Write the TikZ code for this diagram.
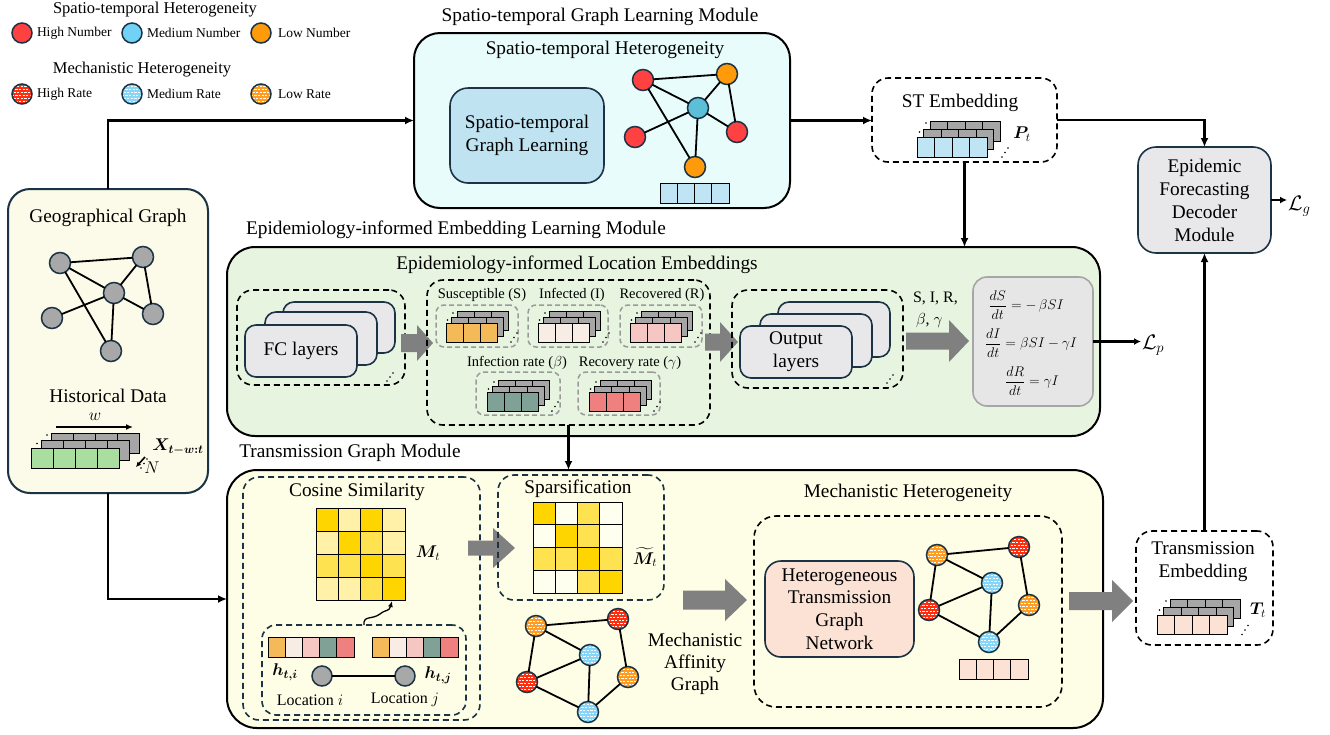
\RequirePackage{fix-cm}
\documentclass[tikz,border=0pt]{standalone}
\usepackage{amsmath,bm}
\usepackage{fontspec}
\setmainfont{Liberation Serif}
\usetikzlibrary{arrows.meta,calc}

\definecolor{navy}{HTML}{1B3344}
\definecolor{cred}{HTML}{FF4141}
\definecolor{cblueL}{HTML}{72D2F6}
\definecolor{cblue}{HTML}{5CBFD8}
\definecolor{corange}{HTML}{FF9A0A}
\definecolor{mred}{HTML}{FF2E0F}
\definecolor{mblue}{HTML}{86D6F8}
\definecolor{morange}{HTML}{FF9C22}
\definecolor{ggray}{HTML}{A8A8A8}
\definecolor{lgray}{HTML}{A6A6A6}
\definecolor{dgray}{HTML}{9A9A9A}
\definecolor{barc}{HTML}{808080}
\definecolor{cyanbg}{HTML}{E8FCFC}
\definecolor{stinner}{HTML}{BFE3F1}
\definecolor{creambg}{HTML}{FCFBEA}
\definecolor{greenbg}{HTML}{E7F5E0}
\definecolor{yellowbg}{HTML}{FEFDE5}
\definecolor{boxgray}{HTML}{E8E8EB}
\definecolor{peach}{HTML}{FBE2D5}
\definecolor{fmgray}{HTML}{E6E6E6}
\definecolor{fmborder}{HTML}{A6A6A6}
\definecolor{embblue}{HTML}{BFE4F4}
\definecolor{embgreen}{HTML}{A9DEA0}
\definecolor{cS}{HTML}{F4BA5A}
\definecolor{cI}{HTML}{F8EDE5}
\definecolor{cR}{HTML}{F5C6C2}
\definecolor{cB}{HTML}{7FA196}
\definecolor{cG}{HTML}{EF8080}
\definecolor{mG}{HTML}{FFD500}
\definecolor{mM}{HTML}{FFE250}
\definecolor{mP}{HTML}{FFF2A8}
\definecolor{mW}{HTML}{FFFFF0}

\newcommand{\bx}[7][]{\node[#1, minimum width={(#5)-(#3)}, minimum height={(#6)-(#4)}] (#2) at ({((#3)+(#5))/2},{((#4)+(#6))/2}) {#7};}
\newcommand{\cellrow}[6]{\foreach \ii in {1,...,#3}{\draw[cell, fill=#6] ({(#1)+(\ii-1)*(#4)},{#2}) rectangle ++(#4,#5);}}
\newcommand{\stk}[8]{%
  \cellrow{(#1)+2*(#7)}{(#2)+2*(#8)}{#3}{#4}{#5}{lgray}%
  \cellrow{(#1)+(#7)}{(#2)+(#8)}{#3}{#4}{#5}{lgray}%
  \cellrow{#1}{#2}{#3}{#4}{#5}{#6}%
  \fill ({(#1)+(#7)-4},{(#2)+(#8)+3}) circle (0.9);
  \fill ({(#1)+2*(#7)-4},{(#2)+2*(#8)+2}) circle (0.9);
  \fill ({(#1)+(#3)*(#4)+2*(#7)+2},{(#2)+(#5)}) circle (0.9);
  \fill ({(#1)+(#3)*(#4)+2*(#7)+5},{(#2)+(#5)-4.5}) circle (0.9);
  \fill ({(#1)+(#3)*(#4)+2*(#7)+8},{(#2)+(#5)-9}) circle (0.9);
}
\newcommand{\mat}[5]{\foreach \cc [count=\kk from 0] in {#5}{\pgfmathtruncatemacro\rr{\kk/4}\pgfmathtruncatemacro\qq{mod(\kk,4)}\draw[cell, fill=\cc] ({(#1)+\qq*(#3)},{(#2)+\rr*(#4)}) rectangle ++(#3,#4);}}
\newcommand{\barrow}[6]{\fill[barc] (#1,{(#3)-(#4)}) -- ({(#2)-(#6)},{(#3)-(#4)}) -- ({(#2)-(#6)},{(#3)-(#5)}) -- (#2,#3) -- ({(#2)-(#6)},{(#3)+(#5)}) -- ({(#2)-(#6)},{(#3)+(#4)}) -- (#1,{(#3)+(#4)}) -- cycle;}
\newcommand{\tdots}[2]{\fill (#1,#2) circle (0.9); \fill ({#1+3},{#2-4}) circle (0.9); \fill ({#1+6},{#2-8}) circle (0.9);}

\tikzset{
  F19/.style={font=\fontsize{19.3}{23}\selectfont},
  F17/.style={font=\fontsize{17}{20}\selectfont},
  F165/.style={font=\fontsize{16.5}{19}\selectfont},
  F16/.style={font=\fontsize{16}{19}\selectfont},
  F145/.style={font=\fontsize{14.5}{17}\selectfont},
  F135/.style={font=\fontsize{13.5}{16}\selectfont},
  txt/.style={inner sep=0, outer sep=0, align=center},
  modbox/.style={draw=black, line width=2, rounded corners=26, inner sep=0, outer sep=0},
  solbox/.style={draw=navy, line width=1.6, rounded corners=15, inner sep=0, outer sep=0},
  dbox/.style={draw=black, line width=1.6, dash pattern=on 6pt off 4pt, rounded corners=16, inner sep=0, outer sep=0},
  gdbox/.style={draw=dgray, line width=1.5, dash pattern=on 5pt off 3pt, rounded corners=8, inner sep=0, outer sep=0},
  arr/.style={line width=2.2, -{Latex[length=9pt,width=8pt]}},
  arrs/.style={line width=2.2, -{Latex[length=7pt,width=7pt]}},
  gn/.style={circle, draw=navy, line width=1.5, minimum size=21, inner sep=0, outer sep=0},
  ge/.style={line width=1.8},
  cell/.style={draw=black, line width=1},
  mdot/.style={gn, fill=#1, path picture={\foreach \yy/\xo in {-8/0,-5/1.8,-2/0,1/1.8,4/0,7/1.8}{\draw[white, line width=0.9, dash pattern=on 2.2pt off 1.4pt] ($(path picture bounding box.center)+(-12+\xo,\yy)$) -- ++(26,0);}}}
}

\begin{document}
\begin{tikzpicture}[x=1pt,y=-1pt]
\useasboundingbox (0,0) rectangle (1330,734);

%% ---------------- legend
\node[txt,F165] (lg1) at (155,10) {Spatio-temporal Heterogeneity};
\node[gn,fill=cred,minimum size=20] (lc1) at (22,33) {};
\node[txt,F135,anchor=west] (ll1) at (37,33) {High Number};
\node[gn,fill=cblueL,minimum size=20] (lc2) at (132,33) {};
\node[txt,F135,anchor=west] (ll2) at (147,33) {Medium Number};
\node[gn,fill=corange,minimum size=20] (lc3) at (261,33) {};
\node[txt,F135,anchor=west] (ll3) at (278,33) {Low Number};
\node[txt,F165] (lg2) at (142,70) {Mechanistic Heterogeneity};
\node[mdot=mred,minimum size=20] (lm1) at (22,94) {};
\node[txt,F135,anchor=west] (lk1) at (37,94) {High Rate};
\node[mdot=mblue,minimum size=20] (lm2) at (132,94) {};
\node[txt,F135,anchor=west] (lk2) at (147,94) {Medium Rate};
\node[mdot=morange,minimum size=20] (lm3) at (261,94) {};
\node[txt,F135,anchor=west] (lk3) at (278,94) {Low Rate};

%% ---------------- module boxes
\bx[modbox,draw=navy,fill=creambg,rounded corners=22]{geo}{8}{189}{208}{493}{}
\bx[modbox,fill=cyanbg]{stm}{414}{33}{790}{208}{}
\bx[modbox,fill=greenbg,rounded corners=28]{eim}{227}{247}{1100}{436}{}
\bx[modbox,fill=yellowbg,rounded corners=30]{tgm}{227}{470}{1103}{728}{}

%% ---------------- left panel
\node[txt,F19] (geot) at (108,218) {Geographical Graph};
\node[gn,fill=ggray] (gA) at (60,263) {};
\node[gn,fill=ggray] (gB) at (143,257) {};
\node[gn,fill=ggray] (gC) at (114,293) {};
\node[gn,fill=ggray] (gD) at (52,318) {};
\node[gn,fill=ggray] (gE) at (153,314) {};
\node[gn,fill=ggray] (gF) at (111,351) {};
\draw[ge] (gA) -- (gB) (gA) -- (gC) (gA) -- (gF) (gB) -- (gC) (gB) -- (gE) (gC) -- (gE) (gC) -- (gD) (gC) -- (gF);
\node[txt,F19] (histt) at (108,396) {Historical Data};
\coordinate (w1) at (56,427); \coordinate (w2) at (133,427);
\draw[line width=1.6,-{Latex[length=7pt,width=6pt]}] (w1) -- (w2);
\node[txt,F17] (wlab) at (95,417) {$w$};
\stk{31}{448}{4}{22}{20}{embgreen}{10}{-7.5}
\node[txt,F17] (xlab) at (178,447) {$\bm{X}_{\bm{t-w:t}}$};
\coordinate (n1) at (145,457); \coordinate (n2) at (136,467);
\draw[line width=1.6,-{Latex[length=5pt,width=5pt]}] (n1) -- (n2);
\node[txt,F17] (nlab) at (152,468) {$N$};

%% ---------------- top module
\node[txt,F19] (stmt) at (600,17) {Spatio-temporal Graph Learning Module};
\node[txt,F19] (stht) at (605,50) {Spatio-temporal Heterogeneity};
\bx[solbox,fill=stinner,rounded corners=18,F19,align=center]{stgl}{450}{88}{604}{183}{Spatio-temporal\\Graph Learning}
\node[gn,fill=cred] (sR1) at (643,80) {};
\node[gn,fill=corange] (sO1) at (727,74) {};
\node[gn,fill=cblue] (sB) at (698,108) {};
\node[gn,fill=cred] (sR2) at (635,137) {};
\node[gn,fill=cred] (sR3) at (737,132) {};
\node[gn,fill=corange] (sO2) at (695,167) {};
\draw[ge] (sR1) -- (sO1) (sR1) -- (sB) (sR1) -- (sO2) (sO1) -- (sB) (sO1) -- (sR3) (sB) -- (sR3) (sB) -- (sR2) (sB) -- (sO2);
\cellrow{660}{183}{4}{17.25}{20}{embblue}

%% ---------------- ST embedding
\bx[dbox]{stemb}{872}{78}{1057}{162}{}
\node[txt,F19] (stet) at (960,103) {ST Embedding};
\stk{917}{137}{4}{17.5}{20}{embblue}{6.5}{-8}
\node[txt,F17] (plab) at (1022,134) {$\bm{P}_t$};

%% ---------------- decoder
\bx[solbox,fill=boxgray,rounded corners=18,F19,align=center]{dec}{1138}{147}{1271}{253}{Epidemic\\Forecasting\\Decoder\\Module}
\node[txt,font=\fontsize{21}{24}\selectfont,anchor=west,inner sep=1] (lg) at (1287,206) {$\mathcal{L}_g$};

%% ---------------- middle module
\node[txt,F19] (eimt) at (456,230) {Epidemiology-informed Embedding Learning Module};
\node[txt,F19] (eilt) at (577,265) {Epidemiology-informed Location Embeddings};
\bx[dbox]{fcb}{237}{290}{405}{385}{}
\bx[solbox,fill=boxgray,rounded corners=11]{fc3}{283}{302}{395}{353}{}
\bx[solbox,fill=boxgray,rounded corners=11]{fc2}{265}{312}{377}{365}{}
\bx[solbox,fill=boxgray,rounded corners=11,F19]{fc1}{245}{325}{357}{377}{FC layers}
\tdots{387}{381}
\barrow{401}{433}{343}{9}{18}{16}

\bx[dbox]{sir}{427}{280}{710}{425}{}
\node[txt,F145] (sl) at (482,295) {Susceptible (S)};
\bx[gdbox]{sbx}{436}{305}{518}{347}{}
\stk{446}{323}{3}{17.3}{19}{cS}{5.5}{-6}
\node[txt,F145] (il) at (572,295) {Infected (I)};
\bx[gdbox]{ibx}{528}{305}{608}{347}{}
\stk{538}{323}{3}{17.3}{19}{cI}{5.5}{-6}
\node[txt,F145] (rl) at (662,295) {Recovered (R)};
\bx[gdbox]{rbx}{620}{305}{702}{347}{}
\stk{630}{323}{3}{17.3}{19}{cR}{5.5}{-6}
\node[txt,F145] (bl) at (517,363) {Infection rate ($\beta$)};
\bx[gdbox]{bbx}{476}{372}{560}{415}{}
\stk{487}{392}{3}{17.3}{19}{cB}{5.5}{-6}
\node[txt,F145] (gl) at (630,363) {Recovery rate ($\gamma$)};
\bx[gdbox]{gbx}{578}{372}{660}{415}{}
\stk{589}{392}{3}{17.3}{19}{cG}{5.5}{-6}
\barrow{705}{738}{342}{8.5}{20}{18}

\bx[dbox]{outb}{732}{290}{903}{388}{}
\bx[solbox,fill=boxgray,rounded corners=11]{ol3}{778}{302}{890}{357}{}
\bx[solbox,fill=boxgray,rounded corners=11]{ol2}{760}{314}{872}{367}{}
\bx[solbox,fill=boxgray,rounded corners=11,F19,align=center]{ol1}{740}{326}{852}{378}{Output\\layers}
\tdots{887}{383}
\node[txt,F16,anchor=west] (sirl) at (913,298) {S, I, R,};
\node[txt,F16,anchor=west] (bgl) at (916,320) {$\beta$, $\gamma$};
\barrow{906}{969}{341}{8.5}{21}{20}

\bx[draw=fmborder,line width=1.6,fill=fmgray,rounded corners=14,inner sep=0,outer sep=0]{fmla}{973}{277}{1093}{406}{}
\node[txt,font=\fontsize{14}{16}\selectfont] (eq1) at (1026,305) {$\dfrac{dS}{dt} = -\,\beta SI$};
\node[txt,font=\fontsize{14}{16}\selectfont] (eq2) at (1031,343) {$\dfrac{dI}{dt} = \beta SI - \gamma I$};
\node[txt,font=\fontsize{14}{16}\selectfont] (eq3) at (1032,381) {$\dfrac{dR}{dt} = \gamma I$};
\node[txt,font=\fontsize{21}{24}\selectfont,anchor=west,inner sep=1] (lp) at (1141,345) {$\mathcal{L}_p$};

%% ---------------- bottom module
\node[txt,F19] (tgmt) at (350,453) {Transmission Graph Module};
\bx[dbox,draw=navy]{cosb}{243}{477}{480}{720}{}
\node[txt,F19] (cost) at (357,492) {Cosine Similarity};
\mat{316}{508}{22.25}{23}{mG,mP,mG,mP,mP,mG,mM,mP,mM,mM,mG,mM,mP,mP,mM,mG}
\node[txt,F17] (mlab) at (428,553) {$\bm{M}_t$};
\bx[dbox,draw=navy,rounded corners=14]{inb}{262}{625}{466}{715}{}
\coordinate (cs2) at (392,601);
\draw[line width=1.3,-{Latex[length=6pt,width=5pt]}] (inb.north) .. controls (363,615) and (372,620) .. (380,614) .. controls (386,609) and (389,612) .. (cs2);
\foreach \cc [count=\kk from 0] in {cS,cI,cR,cB,cG}{\draw[cell,fill=\cc] ({268+\kk*17.2},637) rectangle ++(17.2,20);}
\foreach \cc [count=\kk from 0] in {cS,cI,cR,cB,cG}{\draw[cell,fill=\cc] ({372+\kk*17.2},637) rectangle ++(17.2,20);}
\node[gn,fill=ggray,minimum size=20] (li) at (322,676) {};
\node[gn,fill=ggray,minimum size=20] (lj) at (405,676) {};
\draw[ge] (li) -- (lj);
\node[txt,F17] (hi) at (285,672) {$\bm{h}_{\bm{t,i}}$};
\node[txt,F17] (hj) at (438,675) {$\bm{h}_{\bm{t,j}}$};
\node[txt,F16] (loci) at (310,700) {Location $i$};
\node[txt,F16] (locj) at (405,700) {Location $j$};
\barrow{468}{515}{548}{7.5}{20}{22}

\bx[dbox,draw=navy]{spb}{498}{475}{664}{600}{}
\node[txt,F19] (spt) at (578,489) {Sparsification};
\mat{533}{502}{22.25}{22.75}{mG,mW,mM,mW,mW,mG,mM,mW,mM,mM,mG,mM,mW,mW,mM,mG}
\node[txt,F17] (mtl) at (645,557) {$\widetilde{\bm{M}}_t$};
\node[mdot=morange] (aO1) at (536,626) {};
\node[mdot=mred] (aR1) at (618,619) {};
\node[mdot=mblue] (aB1) at (590,655) {};
\node[mdot=mred] (aR2) at (527,682) {};
\node[mdot=morange] (aO2) at (628,677) {};
\node[mdot=mblue] (aB2) at (588,712) {};
\draw[ge] (aO1) -- (aR1) (aO1) -- (aB1) (aO1) -- (aR2) (aR1) -- (aO2) (aB1) -- (aR2) (aB1) -- (aB2) (aR2) -- (aB2) (aO2) -- (aB2);
\node[txt,font=\fontsize{19.3}{22}\selectfont] (magt) at (695,664) {Mechanistic\\Affinity\\Graph};
\barrow{683}{747}{600}{9.5}{21}{22}

\node[txt,F19] (mht) at (908,493) {Mechanistic Heterogeneity};
\bx[dbox,rounded corners=22]{mhb}{754}{516}{1062}{707}{}
\bx[solbox,fill=peach,rounded corners=16,align=center,font=\fontsize{19.3}{22.7}\selectfont]{htgn}{765}{561}{914}{657}{Heterogeneous\\Transmission\\Graph\\Network}
\node[mdot=morange] (hO1) at (937,555) {};
\node[mdot=mred] (hR1) at (1019,547) {};
\node[mdot=mblue] (hB1) at (992,583) {};
\node[mdot=mred] (hR2) at (929,610) {};
\node[mdot=morange] (hO2) at (1029,605) {};
\node[mdot=mblue] (hB2) at (989,642) {};
\draw[ge] (hO1) -- (hR1) (hO1) -- (hB1) (hO1) -- (hR2) (hR1) -- (hO2) (hB1) -- (hR2) (hB1) -- (hB2) (hR2) -- (hB2) (hO2) -- (hB2);
\cellrow{959}{659}{4}{17.25}{20}{peach}
\barrow{1069}{1133}{601}{9}{21}{21}

%% ---------------- transmission embedding
\bx[dbox]{temb}{1136}{531}{1273}{645}{}
\node[txt,F19] (tet) at (1203,562) {Transmission\\Embedding};
\stk{1157}{615}{4}{17.5}{19.5}{peach}{6.5}{-8}
\node[txt,F17] (tlab) at (1258,610) {$\bm{T}_t$};

%% ---------------- connectors
\draw[arr] (geo.north) |- (stm.west);
\draw[arr] (stm.east) -- (stm.east -| stemb.west);
\draw[arr] (stemb.east) -| (dec.north);
\draw[arr] (stemb.south) -- (stemb.south |- eim.north);
\draw[arr] (temb.north) -- (dec.south);
\draw[arrs] (dec.east) -- (dec.east -| lg.west);
\draw[arrs] (fmla.east) -- (fmla.east -| lp.west);
\draw[arr] (sir.south) -- (sir.south |- tgm.north);
\draw[arr] (geo.south) |- (tgm.west);
\end{tikzpicture}
\end{document}
